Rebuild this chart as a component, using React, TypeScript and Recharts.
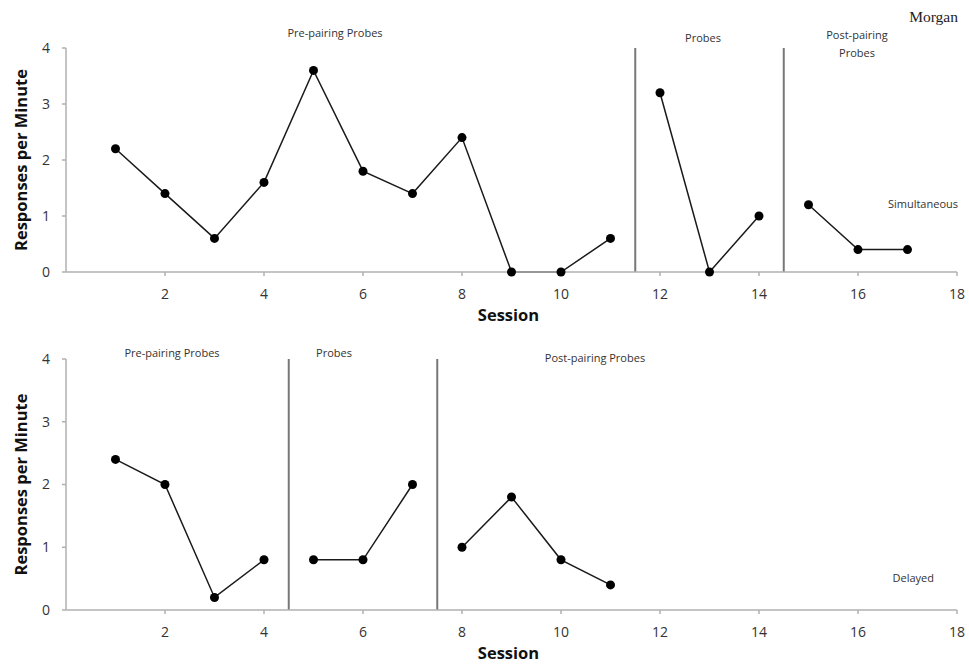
import React from 'react';
import { LineChart, Line, XAxis, YAxis, ReferenceLine } from 'recharts';

// ---- Data ----
const xTicks = [2, 4, 6, 8, 10, 12, 14, 16, 18];
const yTicks = [0, 1, 2, 3, 4];

// Simultaneous (top panel)
const simPreSessions = [1, 2, 3, 4, 5, 6, 7, 8, 9, 10, 11];
const simPreValues = [2.2, 1.4, 0.6, 1.6, 3.6, 1.8, 1.4, 2.4, 0, 0, 0.6];
const simProbeSessions = [12, 13, 14];
const simProbeValues = [3.2, 0, 1.0];
const simPostSessions = [15, 16, 17];
const simPostValues = [1.2, 0.4, 0.4];
const simPhaseLines = [11.5, 14.5];

// Delayed (bottom panel)
const delPreSessions = [1, 2, 3, 4];
const delPreValues = [2.4, 2.0, 0.2, 0.8];
const delProbeSessions = [5, 6, 7];
const delProbeValues = [0.8, 0.8, 2.0];
const delPostSessions = [8, 9, 10, 11];
const delPostValues = [1.0, 1.8, 0.8, 0.4];
const delPhaseLines = [4.5, 7.5];

const toRows = (s: number[], v: number[]) => s.map((session, i) => ({ session, value: v[i] }));

const FONT = '"Open Sans", "Liberation Sans", sans-serif';
const AXIS_COLOR = '#b0b0b0';
const LINE_COLOR = '#1a1a1a';
const PHASE_COLOR = '#777777';

const YLabel = (props: any) => {
  const vb = props.viewBox || {};
  const cx = (vb.x || 0) + 20;
  const cy = (vb.y || 0) + (vb.height || 0) / 2;
  return (
    <text
      x={cx}
      y={cy}
      transform={`rotate(-90, ${cx}, ${cy})`}
      textAnchor="middle"
      dominantBaseline="central"
      fontFamily={FONT}
      fontWeight={700}
      fontSize={16.5}
      fill="#111"
    >
      Responses per Minute
    </text>
  );
};

const makeXLabel = (dyFromAxis: number) => (props: any) => {
  const vb = props.viewBox || {};
  const cx = (vb.x || 0) + (vb.width || 0) / 2 - 3;
  const cy = (vb.y || 0) + dyFromAxis;
  return (
    <text
      x={cx}
      y={cy}
      textAnchor="middle"
      dominantBaseline="central"
      fontFamily={FONT}
      fontWeight={700}
      fontSize={16.5}
      fill="#111"
    >
      Session
    </text>
  );
};

const tickStyle = { fontFamily: FONT, fontSize: 14, fill: '#333' };

type PanelProps = {
  height: number;
  marginTop: number;
  xAxisHeight: number;
  series: { sessions: number[]; values: number[] }[];
  phases: number[];
};

const Panel = ({ height, marginTop, xAxisHeight, series, phases }: PanelProps) => (
  <LineChart
    width={969}
    height={height}
    margin={{ top: marginTop, right: 12, bottom: 0, left: 0 }}
  >
    <XAxis
      type="number"
      dataKey="session"
      domain={[0, 18]}
      ticks={xTicks}
      allowDuplicatedCategory={false}
      height={xAxisHeight}
      tickSize={4}
      tickMargin={13}
      tick={tickStyle}
      stroke={AXIS_COLOR}
      strokeWidth={1.5}
      tickLine={{ stroke: AXIS_COLOR }}
      label={{ content: makeXLabel(42) }}
    />
    <YAxis
      type="number"
      domain={[0, 4]}
      ticks={yTicks}
      width={66}
      tickSize={4}
      tickMargin={12}
      tick={tickStyle}
      stroke={AXIS_COLOR}
      strokeWidth={1.5}
      tickLine={{ stroke: AXIS_COLOR }}
      label={{ content: YLabel }}
    />
    {phases.map((p) => (
      <ReferenceLine key={p} x={p} stroke={PHASE_COLOR} strokeWidth={2} ifOverflow="extendDomain" />
    ))}
    {series.map((s, i) => (
      <Line
        key={i}
        data={toRows(s.sessions, s.values)}
        dataKey="value"
        type="linear"
        stroke={LINE_COLOR}
        strokeWidth={1.5}
        dot={{ r: 4.5, fill: '#000', stroke: '#000', strokeWidth: 0 }}
        activeDot={false}
        isAnimationActive={false}
      />
    ))}
  </LineChart>
);

const labelText = (x: number, y: number, s: string, anchor: string = 'middle') => (
  <text
    x={x}
    y={y}
    textAnchor={anchor}
    dominantBaseline="central"
    fontFamily={FONT}
    fontSize={11}
    fill="#333"
  >
    {s}
  </text>
);

export default function App() {
  return (
    <div style={{ position: 'absolute', left: 0, top: 0, width: 969, height: 664, background: '#fff' }}>
      <div style={{ position: 'absolute', left: 0, top: 0 }}>
        <Panel
          height={330}
          marginTop={48}
          xAxisHeight={58}
          series={[
            { sessions: simPreSessions, values: simPreValues },
            { sessions: simProbeSessions, values: simProbeValues },
            { sessions: simPostSessions, values: simPostValues },
          ]}
          phases={simPhaseLines}
        />
      </div>
      <div style={{ position: 'absolute', left: 0, top: 330 }}>
        <Panel
          height={334}
          marginTop={29}
          xAxisHeight={54}
          series={[
            { sessions: delPreSessions, values: delPreValues },
            { sessions: delProbeSessions, values: delProbeValues },
            { sessions: delPostSessions, values: delPostValues },
          ]}
          phases={delPhaseLines}
        />
      </div>
      <svg
        width={969}
        height={664}
        style={{ position: 'absolute', left: 0, top: 0, pointerEvents: 'none' }}
      >
        <text
          x={958}
          y={16}
          textAnchor="end"
          dominantBaseline="central"
          fontFamily='"Liberation Serif", "DejaVu Serif", serif'
          fontSize={15.5}
          fill="#222"
        >
          Morgan
        </text>
        {labelText(335, 32, 'Pre-pairing Probes')}
        {labelText(703, 37, 'Probes')}
        {labelText(857, 34, 'Post-pairing')}
        {labelText(857, 52, 'Probes')}
        {labelText(958, 203, 'Simultaneous', 'end')}
        {labelText(172, 352, 'Pre-pairing Probes')}
        {labelText(334, 352, 'Probes')}
        {labelText(595, 357, 'Post-pairing Probes')}
        {labelText(934, 577, 'Delayed', 'end')}
      </svg>
    </div>
  );
}
